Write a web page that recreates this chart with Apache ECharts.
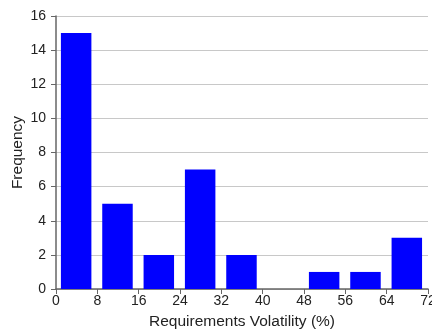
<!DOCTYPE html>
<html><head><meta charset="utf-8">
<script src="https://cdn.jsdelivr.net/npm/echarts@6/dist/echarts.min.js"></script>
<style>html,body{margin:0;padding:0;background:#fff}#c{width:432px;height:331px}</style>
</head><body><div id="c"></div>
<script>
const binStarts = [0, 8, 16, 24, 32, 40, 48, 56, 64];
const binWidth = 8;
const frequencies = [15, 5, 2, 7, 2, 0, 1, 1, 3];
const xTicks = [0, 8, 16, 24, 32, 40, 48, 56, 64, 72];
const yTicks = [0, 2, 4, 6, 8, 10, 12, 14, 16];

const data = binStarts.map((s, i) => [s, s + binWidth, frequencies[i]]);
const chart = echarts.init(document.getElementById('c'), null, {renderer: 'canvas'});
const font = 'Liberation Sans, Arial, sans-serif';
chart.setOption({
  animation: false,
  grid: {left: 56, right: 4, top: 16, bottom: 42, containLabel: false, outerBoundsMode: 'none'},
  xAxis: {
    type: 'value', min: 0, max: 72, interval: 8,
    name: 'Requirements Volatility (%)', nameLocation: 'middle', nameGap: 25, nameMoveOverlap: false,
    nameTextStyle: {fontFamily: font, fontSize: 15.5, color: '#222'},
    axisLine: {lineStyle: {color: '#666', width: 1.5}},
    axisTick: {show: true, length: 5, lineStyle: {color: '#666'}},
    axisLabel: {fontFamily: font, fontSize: 14, color: '#222', margin: 5, showMaxLabel: true, hideOverlap: false},
    splitLine: {show: false}
  },
  yAxis: {
    type: 'value', min: 0, max: 16, interval: 2,
    name: 'Frequency', nameLocation: 'middle', nameGap: 30, nameMoveOverlap: false,
    nameTextStyle: {fontFamily: font, fontSize: 15.5, color: '#222'},
    axisLine: {show: true, lineStyle: {color: '#666', width: 1.5}},
    axisTick: {show: true, length: 5, lineStyle: {color: '#666'}},
    axisLabel: {fontFamily: font, fontSize: 14, color: '#222', margin: 10},
    splitLine: {lineStyle: {color: '#c8c8c8', width: 1}}
  },
  series: [{
    type: 'custom',
    data: data,
    encode: {x: [0, 1], y: 2},
    renderItem: function (params, api) {
      const s = api.value(0), e = api.value(1), v = api.value(2);
      if (!v) return null;
      const p0 = api.coord([s + 0.95, v]);
      const p1 = api.coord([e - 1.15, 0]);
      return {
        type: 'rect',
        shape: {x: p0[0], y: p0[1], width: p1[0] - p0[0], height: p1[1] - p0[1]},
        style: {fill: '#0000ff'}
      };
    }
  }]
});
</script></body></html>
